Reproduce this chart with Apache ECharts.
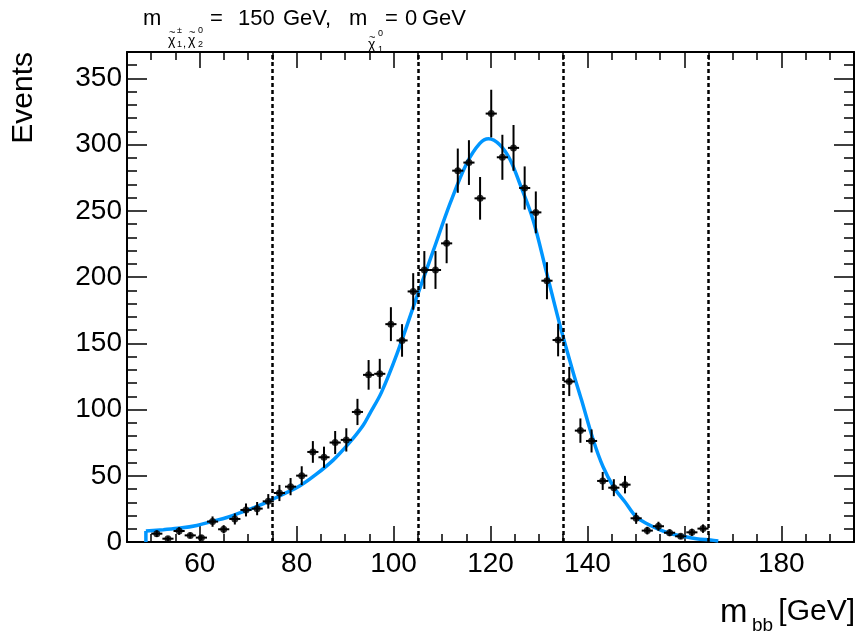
<!DOCTYPE html>
<html>
<head>
    <meta charset="utf-8">
    <title>m_bb</title>
    <style>
        body { margin: 0; background: #fff; }
        #chart1 { width: 859px; height: 633px; }
    </style>
</head>
<body>
    <div id="chart1"></div>
    <script src="https://cdn.jsdelivr.net/npm/echarts/dist/echarts.min.js"></script>
    <script type="text/javascript">
        // bin centres (50 bins, 50-165 GeV)
        var binCenters = [51.15, 53.45, 55.75, 58.05, 60.35, 62.65, 64.95, 67.25, 69.55, 71.85,
            74.15, 76.45, 78.75, 81.05, 83.35, 85.65, 87.95, 90.25, 92.55, 94.85,
            97.15, 99.45, 101.75, 104.05, 106.35, 108.65, 110.95, 113.25, 115.55, 117.85,
            120.15, 122.45, 124.75, 127.05, 129.35, 131.65, 133.95, 136.25, 138.55, 140.85,
            143.15, 145.45, 147.75, 150.05, 152.35, 154.65, 156.95, 159.25, 161.55, 163.85];
        var events = [6.3, 2.5, 8.3, 5, 3.3, 15.4, 9.6, 17.4, 24.2, 25.2,
            30.7, 37, 41.8, 50.1, 68, 64, 75.1, 77.1, 98.2, 126.2,
            127, 164.5, 152.2, 189.2, 205.4, 205.4, 225.5, 280.4, 286.5, 259.5,
            323.5, 290.5, 297.6, 267.3, 248.9, 197.3, 152.5, 121.2, 84.1, 76.3,
            46.1, 41, 43.3, 17.9, 8.6, 11.9, 7, 4.3, 7.3, 10.1];
        var errors = [2.5, 1.6, 2.9, 2.2, 1.8, 3.9, 3.1, 4.2, 4.9, 5,
            5.5, 6.1, 6.5, 7.1, 8.2, 8, 8.7, 8.8, 9.9, 11.2,
            11.3, 12.8, 12.3, 13.8, 14.3, 14.3, 15, 16.7, 16.9, 16.1,
            18, 17, 17.3, 16.3, 15.8, 14, 12.3, 11, 9.2, 8.7,
            6.8, 6.4, 6.6, 4.2, 2.9, 3.4, 2.6, 2.1, 2.7, 3.2];

        // fit curve
        var fitX = [48.9, 52.5, 56, 59.4, 62.5, 65.6, 69, 73.2, 76.6, 80.7,
            84, 87.6, 90.9, 93.7, 95.1, 97.5, 100.7, 104.6, 108.2, 111.7,
            115.1, 117.8, 119.6, 121.9, 124, 126.1, 128.8, 131.6, 134.4, 137.1,
            138.8, 141.2, 143.2, 145.5, 147.8, 150.05, 152.4, 155.1, 157.5, 160.1,
            162.5, 165.4, 167];
        var fitY = [8.3, 9.3, 10.5, 12.5, 15.5, 18.5, 22.9, 29, 35, 42.5,
            51, 62, 75, 88, 97, 113, 142, 183, 220, 256,
            286, 301, 304.5, 300, 289, 270, 243, 203, 162.7, 127.5,
            107, 77, 57, 41, 30, 19, 13.6, 9, 6, 4,
            2.5, 1.5, 0.8];

        var cutLines = [75, 105, 135, 165];
        var xMajor = [60, 80, 100, 120, 140, 160, 180];
        var xMinor = [50, 55, 65, 70, 75, 85, 90, 95, 105, 110, 115, 125, 130, 135, 145, 150, 155, 165, 170, 175, 185, 190];
        var yMajor = [0, 50, 100, 150, 200, 250, 300, 350];
        var yMinor = [10, 20, 30, 40, 60, 70, 80, 90, 110, 120, 130, 140, 160, 170, 180, 190,
            210, 220, 230, 240, 260, 270, 280, 290, 310, 320, 330, 340, 360];

        var FONT = 'Liberation Sans, Arial, Helvetica, sans-serif';

        var points = binCenters.map(function (x, i) { return [x, events[i], errors[i]]; });
        var curve = fitX.map(function (x, i) { return [x, fitY[i]]; });

        function axisX(pos, ticks, len, withLine, withLabel) {
            return {
                type: 'value', min: 45, max: 195, position: pos,
                axisLine: { show: withLine, onZero: false, lineStyle: { color: '#000', width: 2 } },
                axisTick: { show: true, inside: true, length: len, customValues: ticks, lineStyle: { color: '#000', width: 1.5 } },
                axisLabel: withLabel ? { show: true, customValues: ticks, fontSize: 28, color: '#000', fontFamily: FONT, margin: 8 } : { show: false },
                splitLine: { show: false }
            };
        }
        function axisY(pos, ticks, len, withLine, withLabel) {
            return {
                type: 'value', min: 0, max: 370, position: pos,
                axisLine: { show: withLine, onZero: false, lineStyle: { color: '#000', width: 2 } },
                axisTick: { show: true, inside: true, length: len, customValues: ticks, lineStyle: { color: '#000', width: 1.5 } },
                axisLabel: withLabel ? { show: true, customValues: ticks, fontSize: 28, color: '#000', fontFamily: FONT, margin: 5 } : { show: false },
                splitLine: { show: false }
            };
        }

        function txt(s, x, y, size, align) {
            return {
                type: 'text', x: x, y: y,
                style: { text: s, fontSize: size, fontFamily: FONT, fill: '#000',
                    align: align || 'left', verticalAlign: 'middle',
                    textAlign: align || 'left', textVerticalAlign: 'middle' }
            };
        }

        let myChart1 = echarts.init(document.getElementById('chart1'));
        myChart1.setOption({
            animation: false,
            backgroundColor: '#fff',
            grid: { left: 127, right: 5, top: 52, bottom: 91, containLabel: false },
            xAxis: [
                axisX('bottom', xMajor, 16, true, true),
                axisX('bottom', xMinor, 8, false, false),
                axisX('top', xMajor, 16, true, false),
                axisX('top', xMinor, 8, false, false)
            ],
            yAxis: [
                axisY('left', yMajor, 20, true, true),
                axisY('left', yMinor, 10, false, false),
                axisY('right', yMajor, 20, true, false),
                axisY('right', yMinor, 10, false, false)
            ],
            series: [
                {
                    type: 'line', data: [[fitX[0], 0], [fitX[0], fitY[0]]],
                    showSymbol: false, lineStyle: { color: '#0096ff', width: 3.5 }, z: 3
                },
                {
                    type: 'line', data: curve, smooth: 0.35,
                    showSymbol: false, lineStyle: { color: '#0096ff', width: 3.5 }, z: 3
                },
                {
                    type: 'custom', data: points, encode: { x: 0, y: 1 }, z: 4,
                    renderItem: function (params, api) {
                        var x = api.value(0), y = api.value(1), e = api.value(2);
                        var top = api.coord([x, y + e]);
                        var bot = api.coord([x, Math.max(y - e, 0)]);
                        var l = api.coord([x - 1.15, y]);
                        var r = api.coord([x + 1.15, y]);
                        return {
                            type: 'group',
                            children: [
                                { type: 'line', shape: { x1: top[0], y1: top[1], x2: bot[0], y2: bot[1] }, style: { stroke: '#000', lineWidth: 2 } },
                                { type: 'line', shape: { x1: l[0], y1: l[1], x2: r[0], y2: r[1] }, style: { stroke: '#000', lineWidth: 2 } }
                            ]
                        };
                    }
                },
                {
                    type: 'scatter', data: points, symbolSize: 7, z: 5,
                    itemStyle: { color: '#000' },
                    markLine: {
                        silent: true, symbol: ['none', 'none'],
                        label: { show: false },
                        lineStyle: { color: '#000', width: 2.5, type: [4, 3] },
                        data: cutLines.map(function (v) { return { xAxis: v }; })
                    }
                }
            ],
            graphic: [
                // title
                txt('m', 143, 19, 22),
                txt('~', 169, 33, 11),
                txt('\u03c7', 168, 41, 14),
                txt('\u00b1', 177, 31, 9),
                txt('1', 177, 45, 9),
                txt(',', 183, 44, 11),
                txt('~', 189, 33, 11),
                txt('\u03c7', 188, 41, 14),
                txt('0', 198, 31, 9),
                txt('2', 198, 45, 9),
                txt('=', 210, 19, 22),
                txt('150', 238, 19, 22),
                txt('GeV,', 283, 19, 22),
                txt('m', 349, 19, 22),
                txt('~', 369, 38, 11),
                txt('\u03c7', 368, 45, 14),
                txt('0', 378, 34, 9),
                txt('1', 378, 50, 9),
                txt('=', 385, 19, 22),
                txt('0', 405, 19, 22),
                txt('GeV', 422, 19, 22),
                // axis titles
                {
                    type: 'text', x: 24, y: 52, rotation: Math.PI / 2,
                    style: { text: 'Events', fontSize: 30, fontFamily: FONT, fill: '#000',
                        align: 'right', verticalAlign: 'middle', textAlign: 'right', textVerticalAlign: 'middle' }
                },
                txt('m', 720, 613, 33),
                txt('bb', 752, 626, 19),
                txt('[GeV]', 855, 612, 30, 'right')
            ]
        });
    </script>
</body>
</html>
